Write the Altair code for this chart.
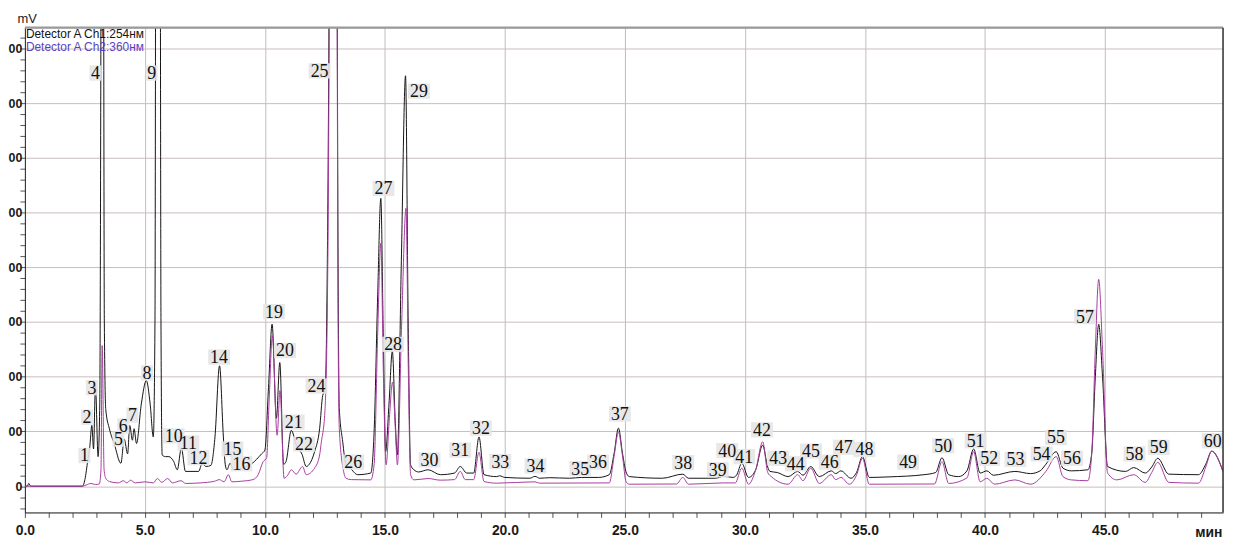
import altair as alt
import pandas as pd

# ---- Data (time in min, signal in mV) ----
ch1_t = [0.0, 0.10, 0.16, 0.24, 2.40, 2.50, 2.62, 2.70, 2.79, 2.86, 2.94, 3.05, 3.12, 3.19, 3.25, 3.31,
         3.37, 3.52, 3.72, 4.00, 4.14, 4.28, 4.37, 4.48, 4.55, 4.65, 4.85, 5.06, 5.22, 5.35, 5.42, 5.47,
         5.62, 5.67, 5.72, 5.86, 6.00, 6.20, 6.35, 6.52, 6.69, 7.24, 7.38, 7.55, 7.75, 7.92, 8.11, 8.27,
         8.35, 8.42, 8.55, 8.69, 9.03, 9.45, 9.86, 10.00, 10.15, 10.30, 10.48, 10.62, 10.78, 10.88, 11.10,
         11.31, 11.55, 11.72, 11.85, 12.07, 12.28, 12.41, 12.51, 12.62, 12.74, 12.88, 12.98, 13.05, 13.10,
         13.24, 13.38, 13.55, 13.87, 14.41, 14.55, 14.70, 14.83, 14.93, 15.03, 15.17, 15.31, 15.43, 15.52,
         15.68, 15.86, 15.97, 16.07, 16.21, 16.40, 16.80, 17.31, 17.90, 18.14, 18.41, 18.70, 18.92, 19.13,
         19.66, 19.78, 20.00, 21.04, 21.25, 21.45, 21.87, 22.69, 23.20, 23.90, 24.35, 24.55, 24.73, 24.90,
         25.04, 25.18, 26.56, 27.41, 27.65, 28.77, 29.11, 29.50, 29.65, 29.87, 30.15, 30.45, 30.74, 30.95,
         31.04, 31.35, 31.80, 32.20, 32.42, 32.74, 33.10, 33.60, 33.78, 34.00, 34.42, 34.65, 34.90, 35.18,
         36.00, 37.46, 37.95, 38.21, 38.49, 38.90, 39.25, 39.53, 39.80, 40.08, 40.35, 41.25, 41.90, 42.30,
         42.54, 42.97, 43.25, 43.60, 44.29, 44.45, 44.60, 44.74, 44.90, 45.11, 45.86, 46.20, 46.68, 46.95,
         47.20, 47.66, 48.90, 49.20, 49.45, 49.92]
ch1_v = [0, 0, 5, 0, 0, 12, 47, 70, 111, 68, 184, 54, 150, 1200, 1700, 300,
         140, 105, 78, 42, 86, 59, 111, 84, 105, 78, 150, 193, 150, 90, 300, 1500,
         1500, 300, 57, 54, 54, 45, 30, 70, 27, 27, 41, 36, 38, 90, 220, 90,
         39, 30, 42, 30, 33, 41, 59, 66, 180, 296, 124, 226, 40, 45, 102,
         75, 58, 36, 40, 63, 105, 166, 175, 500, 1400, 2000, 1400, 400, 142,
         82, 39, 33, 21, 24, 99, 350, 526, 281, 63, 150, 247, 120, 57,
         400, 750, 300, 39, 30, 26, 30, 21, 24, 36, 24, 24, 90, 21,
         17.5, 19, 16, 14.5, 18, 14.5, 15.5, 14.5, 16, 16, 21, 60, 106, 60,
         27, 17.5, 14.5, 22, 14.5, 14.5, 18, 16, 20, 42, 16, 30, 75, 35,
         27, 25, 17.5, 27, 20, 36, 17.5, 28, 23, 28, 14.5, 25, 54, 16,
         17, 21, 25, 52, 21, 17.5, 28, 68, 24, 28, 20, 27, 23, 28,
         40, 63, 33, 28, 30, 60, 200, 296, 200, 36, 27, 34, 24, 35,
         51, 22, 21, 40, 64, 27]

ch2_t = [0.0, 2.40, 2.55, 2.75, 2.95, 3.10, 3.17, 3.22, 3.30, 3.37, 3.52, 3.90, 4.10, 4.25, 4.40, 4.60,
         5.00, 5.35, 5.52, 5.70, 5.95, 6.15, 6.50, 6.70, 7.30, 7.90, 8.10, 8.30, 8.48, 8.62, 9.00, 9.50,
         9.72, 9.93, 10.07, 10.18, 10.31, 10.51, 10.63, 10.80, 10.95, 11.10, 11.30, 11.57, 11.72, 12.07,
         12.28, 12.35, 12.50, 12.62, 12.74, 12.88, 12.98, 13.05, 13.10, 13.28, 13.38, 13.60, 14.41, 14.55,
         14.70, 14.83, 14.94, 15.05, 15.18, 15.32, 15.44, 15.52, 15.70, 15.88, 15.98, 16.07, 16.21, 16.80,
         17.30, 17.90, 18.14, 18.35, 18.70, 18.92, 19.13, 19.66, 21.25, 21.45, 24.35, 24.55, 24.73, 24.90,
         25.05, 25.18, 27.15, 27.41, 27.65, 29.10, 29.60, 29.87, 30.15, 30.45, 30.74, 30.95, 31.10, 31.80,
         32.20, 32.42, 32.74, 33.10, 33.60, 33.78, 34.00, 34.35, 34.65, 34.90, 35.18, 37.90, 38.21, 38.49,
         39.25, 39.53, 39.80, 40.08, 40.40, 41.25, 41.90, 42.54, 42.97, 43.25, 43.60, 44.29, 44.45, 44.60,
         44.74, 44.90, 45.11, 45.50, 46.20, 46.68, 46.95, 47.20, 47.66, 48.90, 49.20, 49.45, 49.92]
ch2_v = [0, 0, 2, 5, 3, 4, 30, 257, 30, 14.5, 8.5, 6, 10, 6, 11, 6,
         8, 6, 14, 7, 14, 6, 10, 5, 6, 9, 12, 8, 21, 8, 9, 12,
         21, 45, 51, 160, 275, 93, 175, 14.5, 20, 30, 22, 36, 21, 33,
         57, 80, 136, 400, 1300, 1800, 1300, 300, 105, 27, 14.5, 12, 11.5, 39,
         280, 444, 200, 39, 120, 190, 100, 39, 300, 508, 200, 21, 11.5, 14,
         11, 12, 27, 12, 12, 62, 8.5, 5.5, 8, 5.5, 6, 55, 99, 55,
         8, 3.6, 4, 16, 3.6, 6, 6, 33, 3.6, 30, 81, 25, 17.5, 3.6,
         21, 10, 33, 5, 21, 12, 16, 3.6, 20, 51, 3.6, 4, 45, 5,
         15, 63, 8, 14.5, 3.6, 11.5, 3.6, 27, 54, 17.5, 11.5, 10, 60, 250,
         378, 250, 24, 11.5, 21, 7, 25, 43.6, 7, 5.5, 35, 64, 27]

series_names = ["Detector A Ch1:254нм", "Detector A Ch2:360нм"]
series_colors = ["#141414", "#a63d9f"]
legend_colors = ["#141414", "#5b3fbf"]

peak_labels = ["1", "2", "3", "4", "5", "6", "7", "8", "9", "10", "11", "12", "14", "15", "16",
               "19", "20", "21", "22", "24", "25", "26", "27", "28", "29", "30", "31", "32", "33",
               "34", "35", "36", "37", "38", "39", "40", "41", "42", "43", "44", "45", "46", "47",
               "48", "49", "50", "51", "52", "53", "54", "55", "56", "57", "58", "59", "60"]
label_t = [2.48, 2.59, 2.79, 2.94, 3.90, 4.10, 4.48, 5.09, 5.28, 6.20, 6.81, 7.23, 8.09, 8.65, 9.02,
           10.38, 10.84, 11.20, 11.63, 12.15, 12.28, 13.68, 14.94, 15.34, 16.42, 16.86, 18.14, 19.00, 19.81,
           21.27, 23.14, 23.88, 24.79, 27.43, 28.87, 29.26, 29.97, 30.71, 31.39, 32.12, 32.75, 33.53, 34.12,
           34.98, 36.80, 38.26, 39.61, 40.18, 41.27, 42.36, 42.96, 43.63, 44.17, 46.23, 47.24, 49.49]
label_v = [56, 126, 180, 755, 86, 110, 130, 207, 755, 92, 79, 52, 236, 68, 41,
           319, 248, 117, 77, 183, 759, 44, 544, 259, 722, 48, 66, 106, 45,
           37, 32, 44, 132, 43, 30, 65, 54, 103, 51, 41, 64, 44, 71,
           67, 44, 74, 83, 51, 49, 59, 89, 51, 310, 59, 71, 83]

x_ticks = list(range(0, 50))
y_ticks = list(range(-40, 840, 20))
x_domain = [0, 49.92]
y_domain = [-48, 838]

W, H = 1206, 488
SANS = "Liberation Sans Narrow, Arial Narrow, Liberation Sans, Arial, sans-serif"

traces = pd.DataFrame({
    "t": ch1_t + ch2_t,
    "v": ch1_v + ch2_v,
    "ch": [series_names[0]] * len(ch1_t) + [series_names[1]] * len(ch2_t),
})
labels_df = pd.DataFrame({"label": peak_labels, "t": label_t, "v": label_v})

x_axis = alt.Axis(
    values=x_ticks, tickCount=500,
    labelExpr="datum.value % 5 == 0 ? format(datum.value, '.1f') : ''",
    grid=True, gridColor="#bdbdbd", gridWidth=1,
    gridOpacity={"condition": {"test": "datum.value % 5 == 0 && datum.value > 0", "value": 1}, "value": 0},
    tickSize=5, tickColor="#555", domainColor="#222", labelPadding=6,
    labelFont=SANS, labelFontSize=14, labelFontWeight="bold", labelColor="#1a1a1a",
    labelFlush=False, labelOverlap=False,
    title="мин", titleX=W - 1, titleY=24, titleAlign="right", titleBaseline="alphabetic",
    titleFont=SANS, titleFontSize=14, titleFontWeight="bold", titleColor="#1a1a1a",
)
# The reference crops the y labels at the left edge so only their last two digits show
y_axis = alt.Axis(
    values=y_ticks, tickCount=500,
    labelExpr="datum.value % 100 == 0 ? slice(datum.label, -2) : ''",
    grid=True, gridColor="#cbbcbc", gridWidth=1,
    gridOpacity={"condition": {"test": "datum.value % 100 == 0", "value": 1}, "value": 0},
    tickSize=5, tickColor="#555", domainColor="#222", labelPadding=-2,
    labelFont=SANS, labelFontSize=12.5, labelFontWeight="bold", labelColor="#1a1a1a",
    labelFlush=False, labelOverlap=False, format="d",
    title="mV", titleAngle=0, titleX=-8, titleY=-5, titleAlign="left", titleBaseline="alphabetic",
    titleFont=SANS, titleFontSize=13, titleFontWeight="normal", titleColor="#1a1a1a",
)

x_enc = alt.X("t:Q", scale=alt.Scale(domain=x_domain, nice=False, zero=False), axis=x_axis)
y_enc = alt.Y("v:Q", scale=alt.Scale(domain=y_domain, nice=False, zero=False), axis=y_axis)

lines = alt.Chart(traces).mark_line(clip=True, strokeWidth=1, interpolate="monotone").encode(
    x=x_enc, y=y_enc,
    color=alt.Color("ch:N", scale=alt.Scale(domain=series_names, range=series_colors), legend=None),
)

boxes = alt.Chart(labels_df).transform_calculate(
    shp="length(datum.label) > 1 ? 'M-1,-0.7H1V0.7H-1Z' : 'M-0.55,-0.7H0.55V0.7H-0.55Z'"
).mark_point(filled=True, size=484, color="#e6e6e6", opacity=0.9, strokeWidth=0).encode(
    x="t:Q", y="v:Q", shape=alt.Shape("shp:N", scale=None)
)

texts = alt.Chart(labels_df).mark_text(
    font="Liberation Serif", fontSize=18, align="center", baseline="middle", dy=1, color="#111"
).encode(x="t:Q", y="v:Q", text="label:N")

leg1 = alt.Chart(pd.DataFrame({"s": [series_names[0]]})).mark_text(
    align="left", baseline="middle", font="Liberation Sans", fontSize=12, color=legend_colors[0]
).encode(x=alt.value(1), y=alt.value(6), text="s:N")
leg2 = alt.Chart(pd.DataFrame({"s": [series_names[1]]})).mark_text(
    align="left", baseline="middle", font="Liberation Sans", fontSize=12, color=legend_colors[1]
).encode(x=alt.value(1), y=alt.value(20), text="s:N")

top_rule = alt.Chart(pd.DataFrame({"a": [0]})).mark_rule(color="#9a9a9a", strokeWidth=2.5).encode(
    x=alt.value(0), x2=alt.value(W), y=alt.value(0)
)
right_rule = alt.Chart(pd.DataFrame({"a": [0]})).mark_rule(color="#333", strokeWidth=1.5).encode(
    x=alt.value(W), y=alt.value(0), y2=alt.value(H)
)

chart = alt.layer(lines, boxes, texts, leg1, leg2, top_rule, right_rule).properties(
    width=W, height=H,
    autosize=alt.AutoSizeParams(type="none"),
    padding={"left": 17, "top": 18, "right": 2, "bottom": 30},
).configure_view(stroke=None).configure(background="white")

chart.save("out.html", embed_options={"renderer": "svg", "actions": False})
